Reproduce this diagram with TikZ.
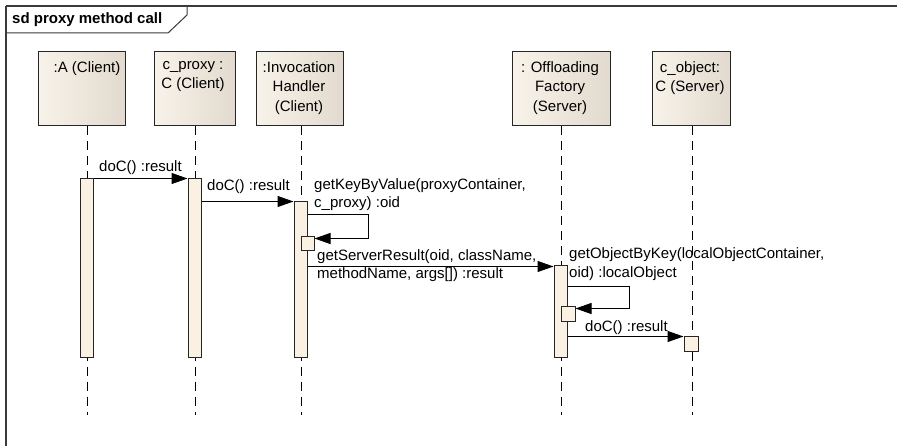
\documentclass[tikz,border=0pt]{standalone}
\usepackage{fontspec}
\setmainfont{Liberation Sans}
\usetikzlibrary{arrows.meta}
\definecolor{headL}{HTML}{F8F3EA}
\definecolor{headR}{HTML}{E2DACE}
\definecolor{actfill}{HTML}{FBF1E2}
\definecolor{framec}{HTML}{3A3A3A}
\begin{document}
\begin{tikzpicture}[x=1pt,y=-1pt,
  every node/.style={font=\fontsize{15}{19.5}\selectfont, inner sep=0pt},
  headbox/.style={draw=black!85, line width=1pt, left color=headL, right color=headR, rectangle, minimum height=74pt},
  headtext/.style={align=center, anchor=north},
  life/.style={draw=black, line width=1pt, dash pattern=on 9pt off 6pt},
  act/.style={draw=black!85, fill=actfill, line width=1pt, rectangle, minimum width=13pt, inner sep=0pt},
  msg/.style={draw=black, line width=1pt, -{Triangle[length=16pt,width=11pt]}},
  lbl/.style={align=left, anchor=west, font=\fontsize{15}{18.5}\selectfont},
]
\useasboundingbox (0,0) rectangle (897,446);
\fill[white] (0,0) rectangle (897,446);
% frame
\draw[framec, line width=2pt] (6,6) -- (897,6);
\draw[framec, line width=1.6pt] (6,6) -- (6,446);
\draw[framec, line width=1pt] (6,33) -- (168,33) -- (187,15) -- (187,6);
\node[anchor=west, font=\bfseries\fontsize{15}{18}\selectfont] (title) at (12,20) {sd proxy method call};
% heads
\node[headbox, minimum width=87pt] (hA) at (81.5,89) {};
\node[headbox, minimum width=81pt] (hP) at (194.5,89) {};
\node[headbox, minimum width=87pt] (hIH) at (299.5,89) {};
\node[headbox, minimum width=98pt] (hOF) at (561,89) {};
\node[headbox, minimum width=78pt] (hO) at (691,89) {};
\node[headtext] (tA) at (87,61) {:A (Client)};
\node[headtext] (tP) at (193,61) {c\_proxy :\\C (Client)};
\node[headtext] (tIH) at (299,61) {:Invocation\\Handler\\(Client)};
\node[headtext] (tOF) at (560,61) {: Offloading\\Factory\\(Server)};
\node[headtext] (tO) at (690,61) {c\_object:\\C (Server)};
% lifelines
\coordinate (eA) at (87,415);
\coordinate (eP) at (195.5,415);
\coordinate (eIH) at (301,415);
\coordinate (eOF) at (561.5,415);
\coordinate (eO) at (692,415);
\draw[life] (hA.south -| eA) -- (eA);
\draw[life] (hP.south -| eP) -- (eP);
\draw[life] (hIH.south -| eIH) -- (eIH);
\draw[life] (hOF.south -| eOF) -- (eOF);
\draw[life] (hO.south -| eO) -- (eO);
% activations
\node[act, minimum height=178pt] (aA) at (86.5,268) {};
\node[act, minimum height=178pt] (aP) at (194.5,268) {};
\node[act, minimum height=155pt] (aIH) at (300.5,279.5) {};
\node[act, minimum height=91pt] (aOF) at (560.5,311.5) {};
\node[act, minimum height=14pt] (sIH) at (307.5,244) {};
\node[act, minimum width=14pt, minimum height=15pt] (sOF) at (568,314.5) {};
\node[act, minimum width=14pt, minimum height=14pt] (fO) at (691,344) {};
% messages
\draw[msg] (aA.north east) -- (aP.north west);
\draw[msg] (aIH.north west -| aP.east) -- (aIH.north west);
\draw[msg] ([yshift=-13pt]aIH.north east) -- ++(61,0) |- ([yshift=-2pt]sIH.north east);
\draw[msg] ([yshift=-1pt]aOF.north west -| aIH.east) -- ([yshift=-1pt]aOF.north west);
\draw[msg] ([yshift=-21pt]aOF.north east) -- ++(62,0) |- ([yshift=-2pt]sOF.north east);
\draw[msg] (fO.north west -| aOF.east) -- (fO.north west);
% labels
\node[lbl] (l1) at (99,168) {doC() :result};
\node[lbl] (l2) at (207,187) {doC() :result};
\node[lbl] (l3) at (314,194.5) {getKeyByValue(proxyContainer,\\c\_proxy) :oid};
\node[lbl] (l4) at (317,265.5) {getServerResult(oid, className,\\methodName, args[]) :result};
\node[lbl] (l5) at (569,264) {getObjectByKey(localObjectContainer,\\oid) :localObject};
\node[lbl] (l6) at (585,328) {doC() :result};
\end{tikzpicture}
\end{document}
